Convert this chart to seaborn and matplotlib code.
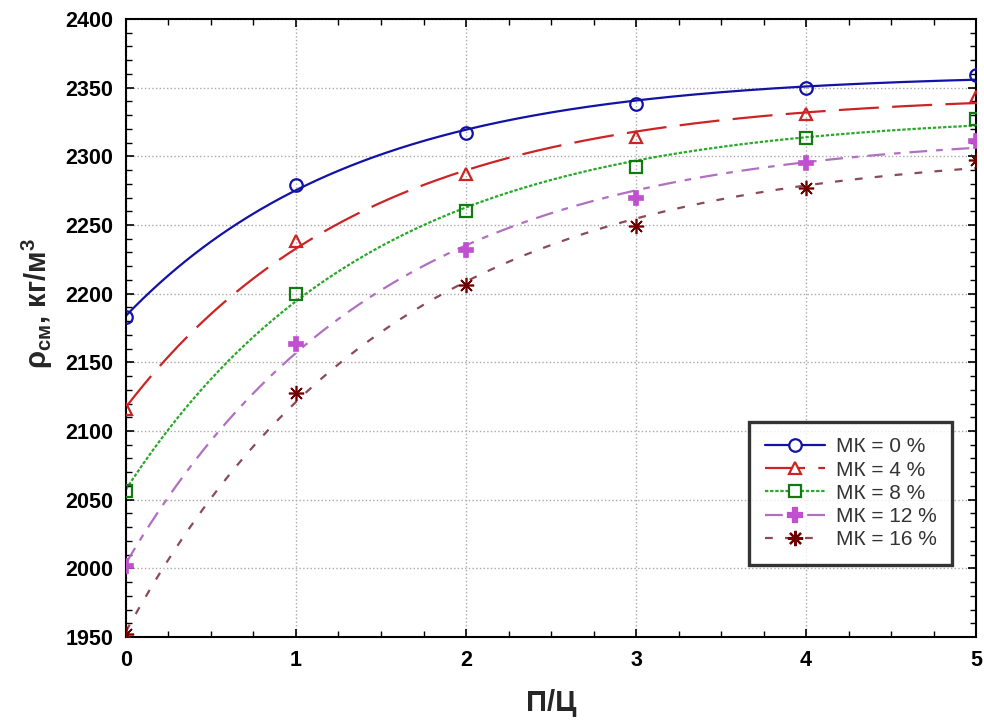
import numpy as np
import pandas as pd
import matplotlib
matplotlib.use("Agg")
import matplotlib.pyplot as plt
from matplotlib.lines import Line2D
from matplotlib.ticker import MultipleLocator
import seaborn as sns

# ---- data ----
pc = [0, 1, 2, 3, 4, 5]
mk0 = [2183, 2279, 2317, 2338, 2350, 2359]
mk4 = [2116, 2238, 2287, 2314, 2331, 2343]
mk8 = [2056, 2200, 2260, 2292, 2313, 2327]
mk12 = [2002, 2163, 2232, 2270, 2295, 2311]
mk16 = [1952, 2128, 2206, 2249, 2277, 2297]
labels = ["МК = 0 %", "МК = 4 %", "МК = 8 %", "МК = 12 %", "МК = 16 %"]
series = [mk0, mk4, mk8, mk12, mk16]

sns.set_theme(style="white")
plt.rcParams['font.family'] = ['Liberation Sans', 'DejaVu Sans']
plt.rcParams['mathtext.fontset'] = 'custom'
plt.rcParams['mathtext.rm'] = 'Liberation Sans'
plt.rcParams['mathtext.bf'] = 'Liberation Sans:bold'
plt.rcParams['mathtext.it'] = 'Liberation Sans:italic'

styles = [
    dict(color='#1212a6', ls='-', marker='o', mc='#1212a6', filled=False, ms=9),
    dict(color='#cc2424', ls=(0, (18, 6)), marker='^', mc='#cc2424', filled=False, ms=9),
    dict(color='#2aa82a', ls=(0, (1.5, 0.8)), marker='s', mc='#137a13', filled=False, ms=9),
    dict(color='#b070c0', ls=(0, (8, 4, 3, 4)), marker='P', mc='#c050d0', filled=True, ms=10),
    dict(color='#8a4a58', ls=(0, (3.5, 5.5)), marker=(8, 2, 0), mc='#700000', filled=True, ms=11),
]

fig = plt.figure(figsize=(9.84, 7.22), dpi=100)
ax = fig.add_axes([0.128, 0.1177, 0.864, 0.856])

xs = np.linspace(0, 5, 300)
handles = []
for y, lab, st in zip(series, labels, styles):
    x = np.array(pc, float)
    yv = np.array(y, float)
    # least-squares fit of y = a - b*exp(-c x)
    best = None
    for c in np.linspace(0.05, 3, 600):
        A = np.column_stack([np.ones_like(x), -np.exp(-c * x)])
        coef, res, *_ = np.linalg.lstsq(A, yv, rcond=None)
        err = np.sum((A @ coef - yv) ** 2)
        if best is None or err < best[0]:
            best = (err, c, coef)
    _, c, (a, b) = best
    curve = pd.DataFrame({'x': xs, 'y': a - b * np.exp(-c * xs)})
    sns.lineplot(data=curve, x='x', y='y', ax=ax, color=st['color'], linewidth=1.6,
                 linestyle=st['ls'], legend=False)
    pts = pd.DataFrame({'x': pc, 'y': y})
    ax.plot(pts['x'], pts['y'], linestyle='none', marker=st['marker'], markersize=st['ms'],
            markerfacecolor=(st['mc'] if st['filled'] else 'none'),
            markeredgecolor=st['mc'], markeredgewidth=1.6 if not st['filled'] else 1.2,
            clip_on=True, zorder=5)
    handles.append(Line2D([], [], color=st['color'], linestyle=st['ls'], linewidth=1.6,
                          marker=st['marker'], markersize=st['ms'],
                          markerfacecolor=(st['mc'] if st['filled'] else 'white'),
                          markeredgecolor=st['mc'], markeredgewidth=1.6))

ax.set_xlim(0, 5)
ax.set_ylim(1950, 2400)
ax.xaxis.set_major_locator(MultipleLocator(1))
ax.xaxis.set_minor_locator(MultipleLocator(0.25))
ax.yaxis.set_major_locator(MultipleLocator(50))
ax.yaxis.set_minor_locator(MultipleLocator(10))
ax.tick_params(which='both', direction='in', top=True, right=True, bottom=True, left=True,
               colors='black')
ax.tick_params(which='major', length=6, width=1.2, pad=8)
ax.tick_params(which='minor', length=4, width=1.0)
for lbl in ax.get_xticklabels() + ax.get_yticklabels():
    lbl.set_fontweight('bold')
    lbl.set_fontsize(15.5)
ax.tick_params(axis='x', pad=9)
ax.tick_params(axis='y', pad=9)
ax.grid(True, which='major', linestyle=':', color='#aaaaaa', linewidth=1.0)
for sp in ax.spines.values():
    sp.set_color('black')
    sp.set_linewidth(1.5)

ax.set_xlabel('П/Ц', fontsize=21, fontweight='bold', labelpad=13)
ax.set_ylabel(r'$\mathbf{\rho_{см}}$, кг/м$^{\mathbf{3}}$', fontsize=21, fontweight='bold', labelpad=8)
ax.yaxis.set_label_coords(-0.083, 0.54)

leg = ax.legend(handles, labels, loc='lower right', bbox_to_anchor=(0.972, 0.117),
                frameon=True, fancybox=False, fontsize=15, handlelength=2.9,
                borderpad=0.75, labelspacing=0.2, handletextpad=0.5, borderaxespad=0)
leg.get_frame().set_edgecolor('black')
leg.get_frame().set_linewidth(2.4)
for t in leg.get_texts():
    t.set_color('#333333')

fig.savefig('out.png', dpi=100)
